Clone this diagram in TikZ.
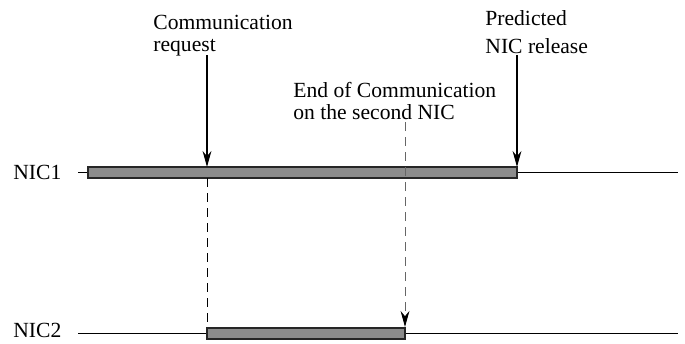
\documentclass[tikz,border=0pt]{standalone}
\usepackage{fontspec}
\setmainfont{Liberation Serif}
\usetikzlibrary{arrows.meta}

\begin{document}
\begin{tikzpicture}[x=0.5pt,y=-0.5pt,
  txt/.style={font=\fontsize{10.8}{11}\selectfont,inner sep=0pt,align=left},
  timeline/.style={line width=0.5pt},
  busy/.style={draw=black!85,fill=black!45,line width=0.6pt},
  pointer/.style={-{Stealth[length=8pt,width=4.4pt,inset=2.6pt]},line width=0.6pt},
  guide/.style={dash pattern=on 4.5pt off 3pt,line width=0.5pt}]

  \useasboundingbox (0,0) rectangle (685,343);

  %% interface names
  \node[txt,anchor=west] (nic1) at (13,172.5) {NIC1};
  \node[txt,anchor=west] (nic2) at (13,330) {NIC2};

  %% time lines
  \coordinate (l1s) at (78,172.5);  \coordinate (l1e) at (678,172.5);
  \coordinate (l2s) at (78,333.5);  \coordinate (l2e) at (678,333.5);
  \draw[timeline] (l1s) -- (l1e);
  \draw[timeline] (l2s) -- (l2e);

  %% busy periods
  \draw[busy] (88,167) coordinate (b1nw) rectangle (517,178) coordinate (b1se);
  \draw[busy] (207,328) coordinate (b2nw) rectangle (405,339) coordinate (b2se);

  %% events (base = last line)
  \node[txt,anchor=base west] (req) at (153,51)
    {Communication\\request};
  \node[txt,anchor=base west,font=\fontsize{10.8}{14}\selectfont] (rel) at (485,53)
    {Predicted\\NIC release};
  \node[txt,anchor=base west] (eoc) at (293,119)
    {End of Communication\\on the second NIC};

  \coordinate (reqtop) at (207,55);   \coordinate (reqbar) at (207,167);
  \coordinate (reqlow) at (207,178);  \coordinate (reqend) at (207,328);
  \coordinate (reltop) at (517,55);   \coordinate (relbar) at (517,167);
  \coordinate (eoctop) at (405,122);  \coordinate (eocbar) at (405,327);

  \draw[pointer] (reqtop) -- (reqbar);
  \draw[pointer] (reltop) -- (relbar);
  \draw[guide] (reqlow) -- (reqend);
  \draw[guide,draw=black!60,
    -{Stealth[length=8pt,width=4.4pt,inset=2.6pt,color=black]}] (eoctop) -- (eocbar);

\end{tikzpicture}
\end{document}
